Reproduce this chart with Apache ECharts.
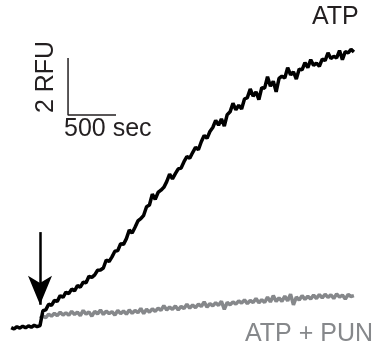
<!DOCTYPE html>
<html>
<head>
<meta charset="utf-8">
<script src="https://cdn.jsdelivr.net/npm/echarts@6/dist/echarts.min.js"></script>
<style>
html,body{margin:0;padding:0;background:#fff;}
#chart{width:386px;height:354px;}
</style>
</head>
<body>
<div id="chart"></div>
<script>
// sampling grid (seconds, 0 = addition marked by arrow)
const timeStart = -300;
const timeStep = 30;

// ATP trace (RFU)
const atpValues = [
  -0.02,-0.07,0.01,-0.04,0.03,-0.03,0.04,-0.01,0.06,0.01,
  0.05,0.57,0.60,0.80,0.76,0.93,0.90,1.10,1.04,1.22,
  1.17,1.33,1.27,1.45,1.40,1.57,1.55,1.78,1.74,1.83,
  1.99,2.00,2.07,2.35,2.30,2.46,2.66,2.68,2.92,2.90,
  3.10,3.40,3.30,3.50,3.72,3.80,3.92,4.22,4.28,4.66,
  4.48,4.72,4.80,4.90,5.10,5.36,5.20,5.38,5.55,5.58,
  5.80,5.98,5.92,6.12,6.30,6.22,6.50,6.72,6.62,6.86,
  7.00,7.25,7.08,7.30,7.05,7.45,7.55,7.85,7.62,7.78,
  7.65,8.00,8.05,8.35,8.10,8.25,7.98,8.40,8.38,8.78,
  8.45,8.62,8.25,8.72,8.80,8.74,9.10,8.85,8.95,8.70,
  9.05,9.02,9.28,9.10,9.38,9.18,9.26,9.15,9.40,9.35,
  9.62,9.42,9.50,9.44,9.70,9.38,9.66,9.62,9.74,9.65
];

// ATP + PUN trace (RFU), starts at the arrow
const punValues = [
  null,null,null,null,null,null,null,null,null,null,
  0.30,0.38,0.33,0.45,0.38,0.48,0.40,0.52,0.42,0.50,
  0.41,0.55,0.44,0.52,0.40,0.58,0.45,0.53,0.38,0.55,
  0.46,0.60,0.44,0.56,0.47,0.54,0.42,0.58,0.47,0.56,
  0.45,0.60,0.48,0.58,0.50,0.65,0.47,0.62,0.52,0.64,
  0.55,0.66,0.58,0.75,0.60,0.70,0.62,0.74,0.60,0.72,
  0.65,0.80,0.66,0.77,0.68,0.80,0.72,0.88,0.70,0.82,
  0.74,0.85,0.76,0.90,0.62,0.86,0.78,0.88,0.80,0.92,
  0.84,0.95,0.82,0.93,0.86,1.00,0.85,0.96,0.86,1.05,
  0.88,1.10,0.90,1.02,0.90,1.08,0.92,1.15,0.78,1.05,
  0.95,1.10,0.97,1.08,0.98,1.12,1.00,1.14,1.02,1.15,
  1.04,1.13,1.00,1.16,1.05,1.12,0.98,1.14,1.07,1.10
];

// scale bar: origin (sec, RFU) and lengths
const scaleOrigin = [292, 7.44];
const scaleSec = 500;
const scaleRFU = 2;

// arrow marking addition (sec, RFU top -> RFU tip)
const arrowTime = 0;
const arrowFrom = 3.33;
const arrowTo = 0.78;

const toPairs = vals => vals.map((v, i) => [timeStart + i * timeStep, v]);
const FONT = '25px "Liberation Sans", Arial, Helvetica, sans-serif';

const chart = echarts.init(document.getElementById('chart'), null, {renderer: 'canvas'});
chart.setOption({
  animation: false,
  backgroundColor: '#ffffff',
  grid: {left: 11.2, top: 13.5, width: 345.6, height: 327.75},
  xAxis: {type: 'value', min: -300, max: 3300, show: false},
  yAxis: {type: 'value', min: -0.5, max: 11, show: false},
  series: [
    {
      name: 'ATP + PUN', type: 'line', data: toPairs(punValues),
      showSymbol: false, connectNulls: false, z: 2,
      lineStyle: {color: '#86888b', width: 3.5}
    },
    {
      name: 'ATP', type: 'line', data: toPairs(atpValues),
      showSymbol: false, z: 3,
      lineStyle: {color: '#000000', width: 3.5},
      markLine: {
        silent: true, symbol: ['none', 'arrow'], symbolSize: [18, 29],
        label: {show: false},
        lineStyle: {color: '#000000', width: 2.5, type: 'solid'},
        data: [[{coord: [arrowTime, arrowFrom]}, {coord: [arrowTime, arrowTo]}]]
      }
    },
    {
      name: 'scale', type: 'line', showSymbol: false, z: 4,
      lineStyle: {color: '#231f20', width: 1.5},
      data: [
        [scaleOrigin[0], scaleOrigin[1] + scaleRFU],
        [scaleOrigin[0], scaleOrigin[1]],
        [scaleOrigin[0] + scaleSec, scaleOrigin[1]]
      ]
    }
  ],
  graphic: [
    {type: 'text', left: 312, top: 5, style: {text: 'ATP', font: FONT, fill: '#231f20'}},
    {type: 'text', left: 245, top: 322, style: {text: 'ATP + PUN', font: FONT, fill: '#86888b'}},
    {type: 'text', left: 64, top: 117, style: {text: scaleSec + ' sec', font: FONT, fill: '#231f20'}},
    {type: 'text', x: 46, y: 77, rotation: Math.PI / 2, style: {text: scaleRFU + ' RFU', font: FONT, fill: '#231f20', align: 'center', verticalAlign: 'middle'}}
  ]
});
</script>
</body>
</html>
